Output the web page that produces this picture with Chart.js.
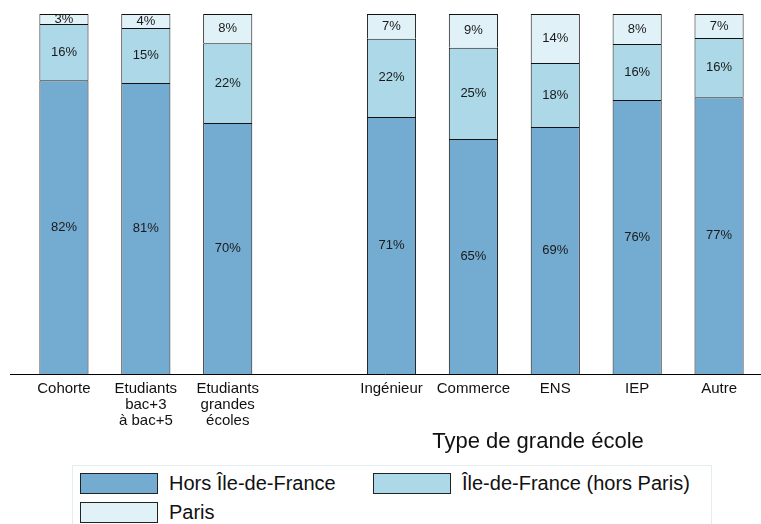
<!DOCTYPE html>
<html>
<head>
<meta charset="utf-8">
<script src="https://cdn.jsdelivr.net/npm/chart.js@4"></script>
<style>
  body { margin: 0; background: #fff; font-family: "Liberation Sans", Arial, sans-serif; }
  #wrap { position: relative; width: 761px; height: 524px; overflow: hidden; }
  #chart-canvas { position: absolute; left: 0; top: 0; }
  #legend {
    position: absolute; left: 72px; top: 465px; width: 640px; height: 80px;
    border: 1px solid #e3ecef; box-sizing: border-box;
    display: grid; grid-template-columns: 293px 330px; grid-auto-rows: 29px;
    padding: 3px 0 0 7px;
  }
  .item { display: flex; align-items: center; font-size: 20px; color: #111; }
  .swatch { width: 78px; height: 21px; border: 1px solid #222; margin-right: 11px; box-sizing: border-box; }
</style>
</head>
<body>
<div id="wrap">
  <canvas id="chart-canvas" width="761" height="462"></canvas>
  <div id="legend"></div>
</div>
<script>
const categories = ['Cohorte', ['Etudiants', 'bac+3', 'à bac+5'], ['Etudiants', 'grandes', 'écoles'], '',
  'Ingénieur', 'Commerce', 'ENS', 'IEP', 'Autre'];
const horsIdf = [81.6, 80.8, 69.7, null, 71.4, 65.3, 68.6, 76.1, 76.9];
const idfHorsParis = [15.6, 15.3, 22.2, null, 21.7, 25.3, 17.8, 15.6, 16.4];
const paris = [2.8, 3.9, 8.1, null, 6.9, 9.4, 13.6, 8.3, 6.7];
const seriesNames = ['Hors Île-de-France', 'Île-de-France (hors Paris)', 'Paris'];
const seriesColors = ['#74abd0', '#acd8e8', '#e0f2f8'];
const axisTitle = 'Type de grande école';

const FONT = '"Liberation Sans", Arial, sans-serif';

// percent labels in the middle of each segment
const segmentLabels = {
  id: 'segmentLabels',
  afterDatasetsDraw(chart) {
    const ctx = chart.ctx;
    ctx.save();
    ctx.font = '13px ' + FONT;
    ctx.fillStyle = '#1a1a1a';
    ctx.textAlign = 'center';
    ctx.textBaseline = 'middle';
    chart.data.datasets.forEach((ds, i) => {
      chart.getDatasetMeta(i).data.forEach((bar, j) => {
        const v = ds.data[j];
        if (v == null) return;
        ctx.fillText(Math.round(v) + '%', bar.x, (bar.y + bar.base) / 2);
      });
    });
    ctx.restore();
  }
};

// baseline + axis title under the grandes écoles group
const axisExtras = {
  id: 'axisExtras',
  afterDraw(chart) {
    const ctx = chart.ctx;
    const y = chart.chartArea.bottom;
    ctx.save();
    ctx.strokeStyle = '#000';
    ctx.lineWidth = 1;
    ctx.beginPath();
    ctx.moveTo(10, y + 0.5);
    ctx.lineTo(chart.width, y + 0.5);
    ctx.stroke();
    ctx.font = '22px ' + FONT;
    ctx.fillStyle = '#111';
    ctx.textAlign = 'center';
    ctx.textBaseline = 'middle';
    ctx.fillText(axisTitle, 538, 442);
    ctx.restore();
  }
};

const chartCanvas = document.querySelector('#chart-canvas');
const chart = new Chart(chartCanvas, {
  type: 'bar',
  data: {
    labels: categories,
    datasets: [horsIdf, idfHorsParis, paris].map((d, i) => ({
      label: seriesNames[i],
      data: d,
      backgroundColor: seriesColors[i],
      borderColor: '#111',
      borderWidth: 1,
      borderSkipped: 'start',
      barPercentage: 0.6,
      categoryPercentage: 1
    }))
  },
  options: {
    responsive: false,
    animation: false,
    layout: { padding: { top: 14, left: 23, right: 1, bottom: 0 } },
    plugins: {
      legend: { display: false },
      tooltip: { enabled: false }
    },
    scales: {
      x: {
        stacked: true,
        grid: { display: false, drawTicks: false },
        border: { display: false },
        ticks: {
          color: '#111',
          font: { family: FONT, size: 15, lineHeight: 1.05 },
          padding: 7,
          maxRotation: 0,
          autoSkip: false
        },
        afterFit: s => { s.height = 88; }
      },
      y: {
        stacked: true,
        display: false,
        min: 0,
        max: 100
      }
    }
  },
  plugins: [segmentLabels, axisExtras]
});

// html legend in two columns
const legend = document.querySelector('#legend');
legend.innerHTML = seriesNames.map((name, i) =>
  `<div class="item"><span class="swatch" style="background:${seriesColors[i]}"></span>${name}</div>`
).join('');
</script>
</body>
</html>
